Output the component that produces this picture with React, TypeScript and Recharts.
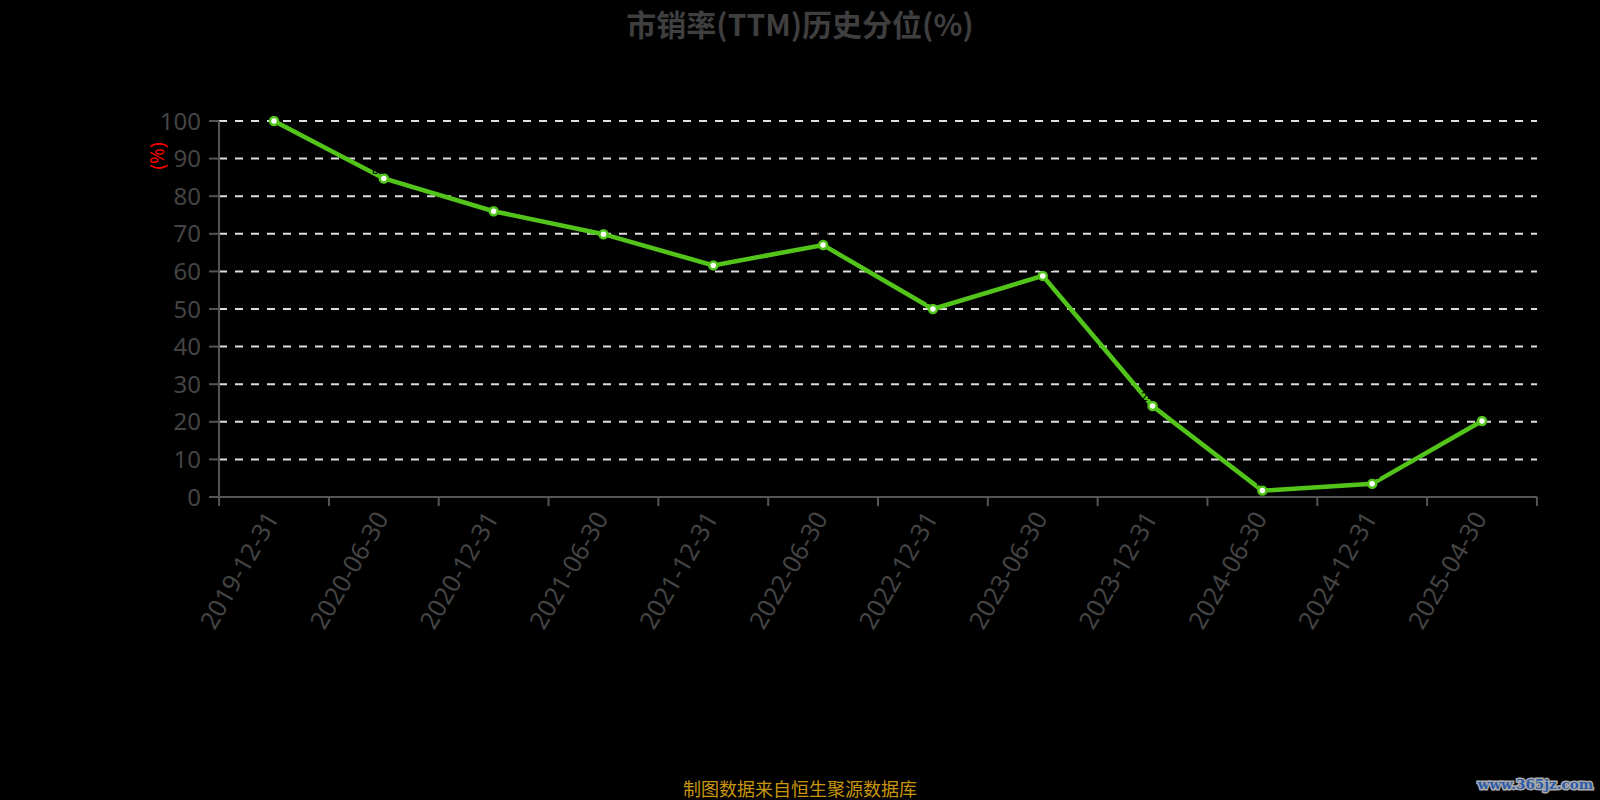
import React from 'react';
import { LineChart, Line, XAxis, YAxis, CartesianGrid, LabelList } from 'recharts';

const categories = [
  '2019-12-31', '2020-06-30', '2020-12-31', '2021-06-30', '2021-12-31', '2022-06-30',
  '2022-12-31', '2023-06-30', '2023-12-31', '2024-06-30', '2024-12-31', '2025-04-30',
];
const values = [100, 84.7, 76.0, 69.9, 61.6, 67.0, 50.0, 58.8, 24.2, 1.7, 3.5, 20.2];
const yTicks = [0, 10, 20, 30, 40, 50, 60, 70, 80, 90, 100];

const titleText = '市销率(TTM)历史分位(%)';
const footerText = '制图数据来自恒生聚源数据库';
const watermarkText = 'www.365jz.com';
const yUnit = '(%)';

const data = categories.map((c, i) => ({ date: c, value: values[i] }));

const W = 1600;
const H = 800;
const PLOT_LEFT = 219;
const PLOT_RIGHT = 1537;
const PLOT_TOP = 121;
const PLOT_BOTTOM = 497;
const PAD = 55;
const STEP = (PLOT_RIGHT - PLOT_LEFT - 2 * PAD) / (categories.length - 1);
const FONT = '"Noto Sans", "Noto Sans CJK SC", sans-serif';
const AXIS_COLOR = '#555';
const TEXT_COLOR = '#444';
const GREEN = '#52c41a';

function XTick(props: any) {
  const { x, payload } = props;
  const tx = x - 3;
  const ty = PLOT_BOTTOM + 16;
  const isLast = payload.value === categories[categories.length - 1];
  return (
    <g>
      <line x1={x - STEP / 2} x2={x - STEP / 2} y1={PLOT_BOTTOM} y2={PLOT_BOTTOM + 9} stroke={AXIS_COLOR} strokeWidth={2} />
      {isLast && (
        <line x1={x + STEP / 2} x2={x + STEP / 2} y1={PLOT_BOTTOM} y2={PLOT_BOTTOM + 9} stroke={AXIS_COLOR} strokeWidth={2} />
      )}
      <text
        x={tx}
        y={ty}
        transform={`rotate(-60 ${tx} ${ty})`}
        textAnchor="end"
        dominantBaseline="central"
        fill={TEXT_COLOR}
        fontSize={25}
        fontFamily={FONT}
      >
        {payload.value}
      </text>
    </g>
  );
}

export default function App() {
  return (
    <div style={{ position: 'absolute', left: 0, top: 0, width: W, height: H, background: '#000', overflow: 'hidden' }}>
      <LineChart
        width={W}
        height={H}
        data={data}
        margin={{ top: PLOT_TOP, right: W - PLOT_RIGHT, left: PLOT_LEFT - 80, bottom: H - PLOT_BOTTOM - 120 }}
      >
        <CartesianGrid vertical={false} stroke="#ddd" strokeDasharray="8 8" strokeWidth={2} />
        <XAxis
          dataKey="date"
          height={120}
          padding={{ left: PAD, right: PAD }}
          axisLine={{ stroke: AXIS_COLOR, strokeWidth: 2 }}
          tickLine={false}
          interval={0}
          tick={<XTick />}
        />
        <YAxis
          width={80}
          domain={[0, 100]}
          ticks={yTicks}
          interval={0}
          axisLine={{ stroke: AXIS_COLOR, strokeWidth: 2 }}
          tickLine={{ stroke: AXIS_COLOR, strokeWidth: 2 }}
          tickSize={10}
          tickMargin={8}
          tick={{ fill: TEXT_COLOR, fontSize: 24, fontFamily: FONT }}
        />
        <Line
          type="linear"
          dataKey="value"
          stroke={GREEN}
          strokeWidth={4.5}
          dot={{ r: 4, fill: '#fff', stroke: GREEN, strokeWidth: 2.5 }}
          activeDot={false}
          isAnimationActive={false}
        >
          <LabelList dataKey="value" position="top" fill="#000" fontSize={12} fontFamily={FONT} />
        </Line>
      </LineChart>

      <div
        style={{
          position: 'absolute', left: 0, top: 4, width: W, textAlign: 'center',
          fontFamily: '"Noto Sans CJK SC", sans-serif', fontWeight: 'bold', fontSize: 30,
          color: '#3f3f3f', lineHeight: '38px',
        }}
      >
        {titleText}
      </div>

      <div
        style={{
          position: 'absolute', left: 157 - 25, top: 156 - 12, width: 50, height: 24,
          textAlign: 'center', lineHeight: '24px', transform: 'rotate(-90deg)',
          fontFamily: FONT, fontSize: 19, color: '#ff0000',
        }}
      >
        {yUnit}
      </div>

      <div
        style={{
          position: 'absolute', left: 0, top: 776, width: W, textAlign: 'center',
          fontFamily: '"Noto Sans CJK SC", sans-serif', fontSize: 18, color: '#c8960c', lineHeight: '24px',
        }}
      >
        {footerText}
      </div>

      <div
        style={{
          position: 'absolute', right: 7, top: 774, fontFamily: '"DejaVu Serif", serif', fontWeight: 'bold',
          fontSize: 13.5, color: '#2b5aa8', WebkitTextStroke: '3px #aaa', paintOrder: 'stroke fill', lineHeight: '20px',
        }}
      >
        {watermarkText}
      </div>
    </div>
  );
}
